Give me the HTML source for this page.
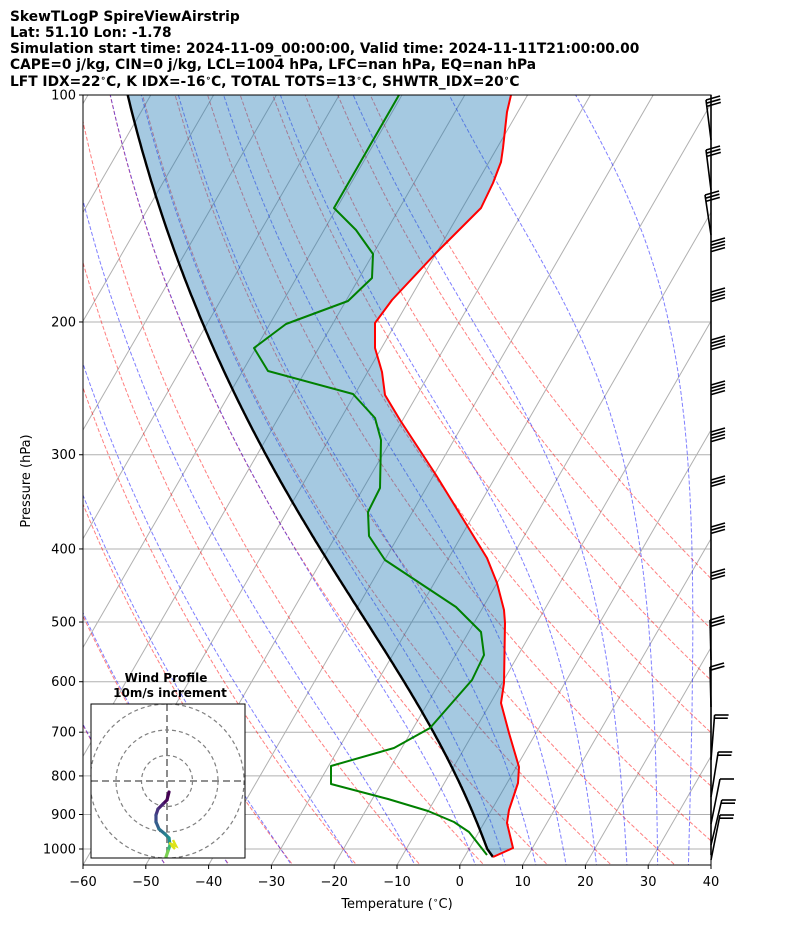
<!DOCTYPE html>
<html><head><meta charset="utf-8"><style>
body{margin:0;background:#fff;}
svg{display:block;font-family:"DejaVu Sans","Liberation Sans",sans-serif;}
</style></head><body>
<svg id="s" width="794" height="937" xmlns="http://www.w3.org/2000/svg">
<defs><clipPath id="cp"><rect x="83" y="95" width="628" height="770"/></clipPath>
<clipPath id="hc"><rect x="91" y="704" width="154" height="154"/></clipPath></defs>
<g font-weight="bold" font-size="13.8" fill="#000">
<text x="10" y="21">SkewTLogP SpireViewAirstrip</text>
<text x="10" y="37">Lat: 51.10   Lon: -1.78</text>
<text x="10" y="53">Simulation start time: 2024-11-09_00:00:00, Valid time: 2024-11-11T21:00:00.00</text>
<text x="10" y="69">CAPE=0 j/kg, CIN=0 j/kg, LCL=1004 hPa, LFC=nan hPa, EQ=nan hPa</text>
<text x="10" y="86" xml:space="preserve">LFT IDX=22<tspan font-size="9" dy="-5">∘</tspan><tspan dy="5">C, K IDX=-16</tspan><tspan font-size="9" dy="-5">∘</tspan><tspan dy="5">C, TOTAL TOTS=13</tspan><tspan font-size="9" dy="-5">∘</tspan><tspan dy="5">C, SHWTR_IDX=20</tspan><tspan font-size="9" dy="-5">∘</tspan><tspan dy="5">C</tspan></text>
</g>
<g id="bg" clip-path="url(#cp)"></g>
<g id="data" clip-path="url(#cp)"></g>
<rect x="83" y="95" width="628" height="770" fill="none" stroke="#000" stroke-width="1"/>
<g id="ax" font-size="13" fill="#000"></g>
<text x="397" y="908" font-size="13" text-anchor="middle">Temperature (<tspan font-size="9" dy="-5">∘</tspan><tspan dy="5">C)</tspan></text>
<text transform="translate(30,481) rotate(-90)" font-size="13" text-anchor="middle">Pressure (hPa)</text>
<g id="barbs" stroke="#000" stroke-width="1.6" fill="none"></g>
<g id="hodo"></g>
</svg>
<script>
var NS="http://www.w3.org/2000/svg";
function el(p,t,a){var e=document.createElementNS(NS,t);for(var k in a)e.setAttribute(k,a[k]);p.appendChild(e);return e;}
function Y(p){return 95+754*Math.log10(p/100);}
function X(T,y){return 83+(T+60)*6.28+0.5774*(865-y);}
var bg=document.getElementById('bg'),dt=document.getElementById('data'),ax=document.getElementById('ax');
for(var T=-200;T<=50;T+=10){el(bg,'line',{x1:X(T,865),y1:865,x2:X(T,95),y2:95,stroke:'#b0b0b0','stroke-width':1});}
for(var p=100;p<=1000;p+=100){var y=Y(p);el(bg,'line',{x1:83,y1:y,x2:711,y2:y,stroke:'#b0b0b0','stroke-width':1});}
function path(pts){return 'M'+pts.map(function(q){return q[0].toFixed(1)+','+q[1].toFixed(1)}).join('L');}
for(var t0=-50;t0<=90;t0+=10){var th=t0+273.15,pts=[];for(var p=1060;p>=95;p-=10){var Tk=th*Math.pow(p/1000,0.2857);var y=Y(p);pts.push([X(Tk-273.15,y),y]);}
el(bg,'path',{d:path(pts),fill:'none',stroke:'#ff0000','stroke-opacity':0.5,'stroke-width':1,'stroke-dasharray':'4,2'});}
function dTdp(p,Tk){var Tc=Tk-273.15,es=6.112*Math.exp(17.67*Tc/(Tc+243.5)),rs=0.622*es/(p-es);
return (287.04*Tk+2.501e6*rs)/(1004.6+2.501e6*2.501e6*rs*0.622/(287.04*Tk*Tk))/p;}
function moist(t0,pTop,pBot){var up=[],dn=[],Tk=t0+273.15,p=1000,h=-2;
up.push([1000,Tk]);while(p>pTop){var k1=dTdp(p,Tk),k2=dTdp(p+h/2,Tk+h/2*k1),k3=dTdp(p+h/2,Tk+h/2*k2),k4=dTdp(p+h,Tk+h*k3);Tk+=h/6*(k1+2*k2+2*k3+k4);p+=h;up.push([p,Tk]);}
Tk=t0+273.15;p=1000;h=2;while(p<pBot){var k1=dTdp(p,Tk),k2=dTdp(p+h/2,Tk+h/2*k1),k3=dTdp(p+h/2,Tk+h/2*k2),k4=dTdp(p+h,Tk+h*k3);Tk+=h/6*(k1+2*k2+2*k3+k4);p+=h;dn.push([p,Tk]);}
var all=dn.reverse().concat(up);return all.map(function(q){var y=Y(q[0]);return [X(q[1]-273.15,y),y];});}
var mt=[-50,-40,-30,-20,-10,0,5,10,15,20,25,30,35,40,45,50];
mt.forEach(function(t0){el(bg,'path',{d:path(moist(t0,96,1060)),fill:'none',stroke:'#0000ff','stroke-opacity':0.5,'stroke-width':1,'stroke-dasharray':'4,2'});});
var red=[[511,95],[507,112],[503,148],[501,162],[493,183],[481,208],[436,253],[392,300],[375,323],[375,348],[382,372],[385,395],[400,420],[436,475],[487,558],[497,583],[504,610],[505,623],[504,683],[501,703],[509,733],[519,767],[518,783],[509,810],[507,823],[513,848],[493,857]];
var grn=[[399,95],[334,208],[356,230],[373,254],[372,278],[348,301],[286,324],[254,348],[268,371],[353,394],[375,418],[381,440],[380,488],[368,512],[369,536],[385,560],[456,607],[481,632],[484,655],[472,680],[430,728],[394,748],[331,766],[331,784],[388,799],[428,811],[454,822],[469,832],[487,855]];
var par=moist(2.9,90,1000).filter(function(q){return q[1]<=857;});
par.unshift([493,857]);
var poly=red.concat(par);
el(dt,'path',{d:path(poly)+'Z',fill:'#1f77b4','fill-opacity':0.4,stroke:'none'});
el(dt,'path',{d:path(par),fill:'none',stroke:'#000','stroke-width':2.4});
el(dt,'path',{d:path(red),fill:'none',stroke:'#ff0000','stroke-width':2,'stroke-linejoin':'round'});
el(dt,'path',{d:path(grn),fill:'none',stroke:'#008000','stroke-width':2,'stroke-linejoin':'round'});
for(var i=0;i<=10;i++){var x=83+62.8*i;el(ax,'line',{x1:x,y1:865,x2:x,y2:869,stroke:'#000'});var t=el(ax,'text',{x:x,y:886,'text-anchor':'middle'});var v=-60+10*i;t.textContent=(v<0?'−'+(-v):v);}
for(var p=100;p<=1000;p+=100){var y=Y(p);el(ax,'line',{x1:79,y1:y,x2:83,y2:y,stroke:'#000'});var t=el(ax,'text',{x:76,y:y+4.5,'text-anchor':'end'});t.textContent=p;}
var bb=document.getElementById('barbs');
el(bb,'line',{x1:711,y1:95,x2:711,y2:855});
var bys=[[100,3,-5],[150,3,-5],[195,3,-6],[242,4,0],[292,4,0],[340,4,0],[385,4,0],[432,4,0],[480,3,0],[527,3,0],[573,3,0],[620,3,-1],[667,2,-1],[715,2,4],[752,2,8],[779,1,10],[800,2,12],[815,2,10]];
bys.forEach(function(b){var y=b[0],n=b[1],dx=b[2];var x=711+dx*0.6;
if(dx>3){el(bb,'line',{x1:711,y1:y+45,x2:x+dx*0.3,y2:y});}
else if(dx<0){el(bb,'line',{x1:711,y1:y+40,x2:711+dx,y2:y});}
for(var j=0;j<n;j++){var yy=y+j*3.2;var xs=(dx<0?711+dx+j*0.4:(dx>3?x+dx*0.3-j*0.8:711));el(bb,'line',{x1:xs,y1:yy,x2:xs+14,y2:yy-(dx>3?0:4)});}});
var h=document.getElementById('hodo');
var tt=el(h,'text',{x:166,y:682,'text-anchor':'middle','font-size':'12','font-weight':'bold'});tt.textContent='Wind Profile';
tt=el(h,'text',{x:170,y:697,'text-anchor':'middle','font-size':'12','font-weight':'bold'});tt.textContent='10m/s increment';
var hg=el(h,'g',{'clip-path':'url(#hc)'});
el(hg,'rect',{x:91,y:704,width:154,height:154,fill:'#fff'});
[25.5,51,77].forEach(function(r){el(hg,'circle',{cx:167,cy:781,r:r,fill:'none',stroke:'#808080','stroke-width':1.2,'stroke-dasharray':'4,3'});});
el(hg,'line',{x1:91,y1:781,x2:245,y2:781,stroke:'#808080','stroke-width':1.8,'stroke-dasharray':'7,4'});
el(hg,'line',{x1:167,y1:704,x2:167,y2:858,stroke:'#808080','stroke-width':1.8,'stroke-dasharray':'7,4'});
var hp=[[169,792],[167,800],[163,804],[158,809],[156,815],[156,822],[159,829],[165,834],[169,838],[170,845],[168,851],[166,857]];
var cols=['#440154','#46075a','#482173','#46337e','#3e4989','#355f8d','#2c728e','#26828e','#21918c','#3bbb75','#7ad151','#a8db34'];
for(var i=0;i<hp.length-1;i++){el(hg,'line',{x1:hp[i][0],y1:hp[i][1],x2:hp[i+1][0],y2:hp[i+1][1],stroke:cols[i],'stroke-width':3.2,'stroke-linecap':'round'});}
el(hg,'path',{d:'M169,843L176,846L173,840M171,845L175,849',stroke:'#dde318','stroke-width':2.5,fill:'none'});
el(h,'rect',{x:91,y:704,width:154,height:154,fill:'none',stroke:'#000','stroke-width':1});
</script>
</body></html>
